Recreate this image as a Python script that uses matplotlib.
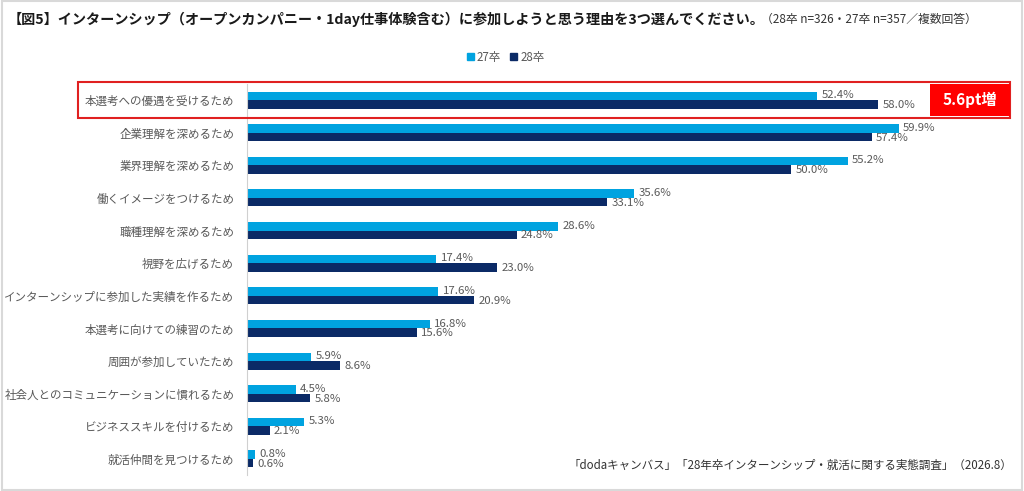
import matplotlib
matplotlib.use("Agg")
import matplotlib.pyplot as plt
import matplotlib.transforms as mtransforms
from matplotlib.patches import Rectangle, Patch
import numpy as np

plt.rcParams['font.family'] = ['Noto Sans CJK JP', 'DejaVu Sans']

categories = ["本選考への優遇を受けるため", "企業理解を深めるため", "業界理解を深めるため",
              "働くイメージをつけるため", "職種理解を深めるため", "視野を広げるため",
              "インターンシップに参加した実績を作るため", "本選考に向けての練習のため",
              "周囲が参加していたため", "社会人とのコミュニケーションに慣れるため",
              "ビジネススキルを付けるため", "就活仲間を見つけるため"]
v27 = [52.4, 59.9, 55.2, 35.6, 28.6, 17.4, 17.6, 16.8, 5.9, 4.5, 5.3, 0.8]
v28 = [58.0, 57.4, 50.0, 33.1, 24.8, 23.0, 20.9, 15.6, 8.6, 5.8, 2.1, 0.6]
series_names = ["27卒", "28卒"]
colors = ["#00A3E0", "#0B2A66"]
highlight = "5.6pt増"

title = "【図5】インターンシップ（オープンカンパニー・1day仕事体験含む）に参加しようと思う理由を3つ選んでください。"
subtitle = "（28卒 n=326・27卒 n=357／複数回答）"
source = "「dodaキャンバス」「28年卒インターンシップ・就活に関する実態調査」（2026.8）"

fig = plt.figure(figsize=(10.24, 4.91), dpi=100)
ax = fig.add_axes([0.241, 0.032, 0.744, 0.7975])

y = np.arange(len(categories))
h = 0.26
ax.barh(y - h / 2, v27, height=h, color=colors[0])
ax.barh(y + h / 2, v28, height=h, color=colors[1])
for i in range(len(categories)):
    ax.text(v27[i] + 0.4, y[i] - h / 2 - 0.02, f"{v27[i]:.1f}%", va='center', ha='left',
            fontsize=8.2, color="#595959")
    ax.text(v28[i] + 0.4, y[i] + h / 2 + 0.02, f"{v28[i]:.1f}%", va='center', ha='left',
            fontsize=8.2, color="#595959")

ax.set_xlim(0, 70)
ax.set_ylim(len(categories) - 0.5, -0.5)
ax.set_yticks(y)
ax.set_yticklabels(categories, fontsize=8.3, color="#595959")
ax.tick_params(axis='y', length=0, pad=9)
ax.set_xticks([])
for s in ['top', 'right', 'bottom']:
    ax.spines[s].set_visible(False)
ax.spines['left'].set_color("#D0D0D0")

# highlight box for first row
tr = mtransforms.blended_transform_factory(fig.transFigure, ax.transData)
fig.add_artist(Rectangle((78 / 1024, -0.54), (1010 - 78) / 1024, 1.08, transform=tr,
                         fill=False, edgecolor="#E02020", linewidth=1.5, clip_on=False))
fig.add_artist(Rectangle((930 / 1024, -0.5), (1010 - 930) / 1024, 1.0, transform=tr,
                         facecolor="#FF0000", edgecolor="none", clip_on=False))
fig.text(970 / 1024, 0, highlight, transform=tr, ha='center', va='center',
         color='white', fontsize=11, fontweight='bold')

# title
t1 = fig.text(8 / 1024, 1 - 19 / 491, title, fontsize=10.2, fontweight='bold',
              color="#1a1a1a", va='center', ha='left')
fig.canvas.draw()
bb = t1.get_window_extent()
fig.text(bb.x1 / 1024 - 0.004, 1 - 19 / 491, subtitle, fontsize=8.5, color="#333333",
         va='center', ha='left')

# legend
handles = [Patch(color=c, label=n) for c, n in zip(colors, series_names)]
fig.legend(handles=handles, loc='center', bbox_to_anchor=(0.494, 1 - 57 / 491), ncol=2,
           frameon=False, fontsize=8.3, handlelength=0.6, handleheight=0.6,
           handletextpad=0.3, columnspacing=0.8, labelcolor="#595959")

# source
fig.text(1012 / 1024, 1 - 465 / 491, source, fontsize=8.3, color="#333333",
         ha='right', va='center')

# outer frame
fig.add_artist(Rectangle((0.002, 0.003), 0.996, 0.994, transform=fig.transFigure,
                         fill=False, edgecolor="#D9D9D9", linewidth=1.5))

fig.savefig("out.png", dpi=100)
